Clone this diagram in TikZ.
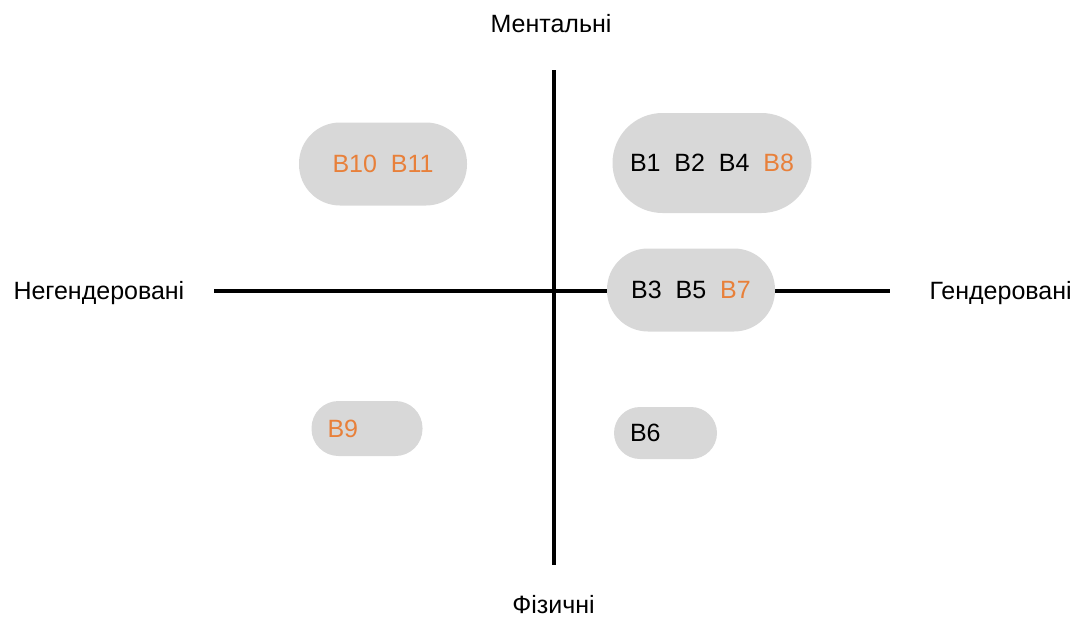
\documentclass[tikz,border=0pt]{standalone}
\usepackage{fontspec}
\setmainfont{Liberation Sans}
\usepackage{xcolor}
\usepackage{tikz}
\definecolor{pillgray}{HTML}{D8D8D8}
\definecolor{borange}{HTML}{E8803A}

\begin{document}
\begin{tikzpicture}[x=1pt,y=-1pt,
	axis/.style={line width=4pt,black},
	pill/.style={fill=pillgray,rounded corners=#1,inner sep=0pt,
		font=\fontsize{25}{30}\selectfont},
	axislabel/.style={anchor=base,font=\fontsize{25}{30}\selectfont}]
	\useasboundingbox (0,0) rectangle (1077,621);
	% axes
	\coordinate (top) at (554,70);
	\coordinate (bottom) at (554,565);
	\coordinate (left) at (214,291);
	\coordinate (right) at (890,291);
	\draw[axis] (top) -- (bottom);
	\draw[axis] (left) -- (right);
	\node[axislabel] (mental) at (551,32) {Ментальні};
	\node[axislabel] (physical) at (553.5,613) {Фізичні};
	\node[axislabel,anchor=base west] (nongender) at (10,299) {Негендеровані};
	\node[axislabel,anchor=base west] (gender) at (926,299) {Гендеровані};
	% groups
	\node[pill=41,minimum width=168,minimum height=83] (g1011) at (383,164)
		{\textcolor{borange}{B10}~~\textcolor{borange}{B11}};
	\node[pill=50,minimum width=199,minimum height=100] (g1248) at (712,163)
		{B1~~B2~~B4~~\textcolor{borange}{B8}};
	\node[pill=41,minimum width=168,minimum height=83] (g357) at (691,290)
		{B3~~B5~~\textcolor{borange}{B7}};
	\node[pill=27,minimum height=55,text width=79,inner xsep=16,align=left] (g9) at (367,428.5)
		{\textcolor{borange}{B9}};
	\node[pill=26,minimum height=52,text width=71,inner xsep=16,align=left] (g6) at (665.5,433)
		{B6};
\end{tikzpicture}
\end{document}
